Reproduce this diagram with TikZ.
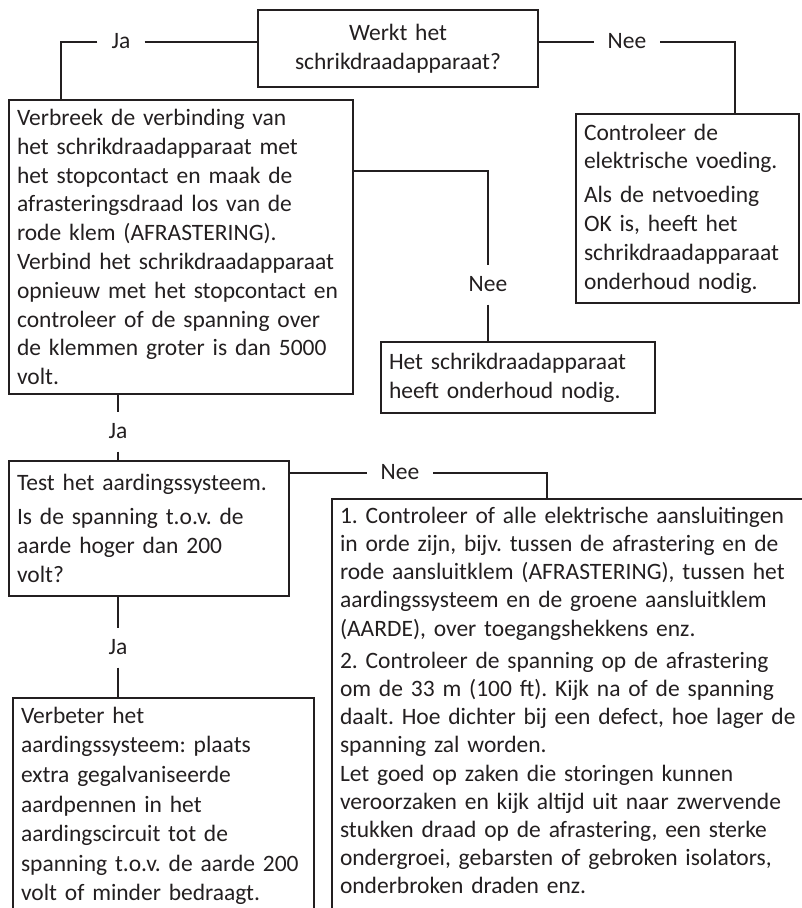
\documentclass[tikz,border=0pt]{standalone}
\usepackage{fontspec}
\setmainfont{Carlito}
\frenchspacing
\definecolor{ink}{HTML}{231F20}
\tikzset{
  box/.style={draw=ink, text=ink, line width=2pt, anchor=north west, align=left,
    inner xsep=8pt, inner ysep=6pt, font=\fontsize{23.5}{28.8}\selectfont},
  answer/.style={text=ink, inner xsep=14pt, inner ysep=11pt, text height=15pt,
    text depth=2pt, font=\fontsize{23.5}{28.8}\selectfont},
  link/.style={draw=ink, line width=2pt}
}
\begin{document}
\begin{tikzpicture}[x=1pt, y=-1pt]
  \useasboundingbox (0,0) rectangle (801,908);

  % Boxes
  \node[box, align=center, text width=264pt, minimum height=77pt] (werkt) at (257,9)
    {Werkt het\\schrikdraadapparaat?};
  \node[box, text width=328pt, minimum height=294pt] (verbreek) at (8,99)
    {Verbreek de verbinding van\\
     het schrikdraadapparaat met\\
     het stopcontact en maak de\\
     afrasteringsdraad los van de\\
     rode klem (AFRASTERING).\\
     Verbind het schrikdraadapparaat\\
     opnieuw met het stopcontact en\\
     controleer of de spanning over\\
     de klemmen groter is dan 5000\\
     volt.};
  \node[box, text width=207pt, minimum height=189pt] (controleer) at (575,113)
    {Controleer de\\
     elektrische voeding.\\[5pt]
     Als de netvoeding\\
     OK is, heeft het\\
     schrikdraadapparaat\\
     onderhoud nodig.};
  \node[box, text width=258pt, minimum height=71pt] (het) at (380,341)
    {Het schrikdraadapparaat\\heeft onderhoud nodig.};
  \node[box, text width=264pt, minimum height=135pt] (test) at (8,460)
    {Test het aardingssysteem.\\[5pt]
     Is de spanning t.o.v. de\\
     aarde hoger dan 200\\
     volt?};
  \node[box, text width=490pt, inner ysep=8pt, font=\fontsize{23.5}{28.2}\selectfont]
    (big) at (331,498)
    {1. Controleer of alle elektrische aansluitingen\\
     in orde zijn, bijv. tussen de afrastering en de\\
     rode aansluitklem (AFRASTERING), tussen het\\
     aardingssysteem en de groene aansluitklem\\
     (AARDE), over toegangshekkens enz.\\[4pt]
     2. Controleer de spanning op de afrastering\\
     om de 33 m (100 ft). Kijk na of de spanning\\
     daalt. Hoe dichter bij een defect, hoe lager de\\
     spanning zal worden.\\
     Let goed op zaken die storingen kunnen\\
     veroorzaken en kijk altijd uit naar zwervende\\
     stukken draad op de afrastering, een sterke\\
     ondergroei, gebarsten of gebroken isolators,\\
     onderbroken draden enz.\\[10pt]\strut};
  \node[box, text width=285pt, inner ysep=9pt, font=\fontsize{23.5}{29.6}\selectfont]
    (verbeter) at (12,697)
    {Verbeter het\\
     aardingssysteem: plaats\\
     extra gegalvaniseerde\\
     aardpennen in het\\
     aardingscircuit tot de\\
     spanning t.o.v. de aarde 200\\
     volt of minder bedraagt.\\[10pt]\strut};

  % Answers
  \node[answer] (jaA) at (121,42) {Ja};
  \node[answer] (neeA) at (627,42) {Nee};
  \node[answer] (neeB) at (488,285) {Nee};
  \node[answer] (jaB) at (118,432) {Ja};
  \node[answer] (neeC) at (400,473) {Nee};
  \node[answer] (jaC) at (118,648) {Ja};

  % Bends
  \coordinate (k1) at (61,42);
  \coordinate (k2) at (735,42);
  \coordinate (k3) at (488,171);
  \coordinate (k4) at (547,473);

  % Connectors
  \draw[link] (jaA.east) -- (jaA.east -| werkt.west);
  \draw[link] (jaA.west) -- (k1) -- (k1 |- verbreek.north);
  \draw[link] (neeA.west -| werkt.east) -- (neeA.west);
  \draw[link] (neeA.east) -- (k2) -- (k2 |- controleer.north);
  \draw[link] (k3 -| verbreek.east) -- (k3) -- (neeB.north);
  \draw[link] (neeB.south) -- (neeB.south |- het.north);
  \draw[link] (jaB.north |- verbreek.south) -- (jaB.north);
  \draw[link] (jaB.south) -- (jaB.south |- test.north);
  \draw[link] (neeC.west -| test.east) -- (neeC.west);
  \draw[link] (neeC.east) -- (k4) -- (k4 |- big.north);
  \draw[link] (jaC.north |- test.south) -- (jaC.north);
  \draw[link] (jaC.south) -- (jaC.south |- verbeter.north);
\end{tikzpicture}
\end{document}
